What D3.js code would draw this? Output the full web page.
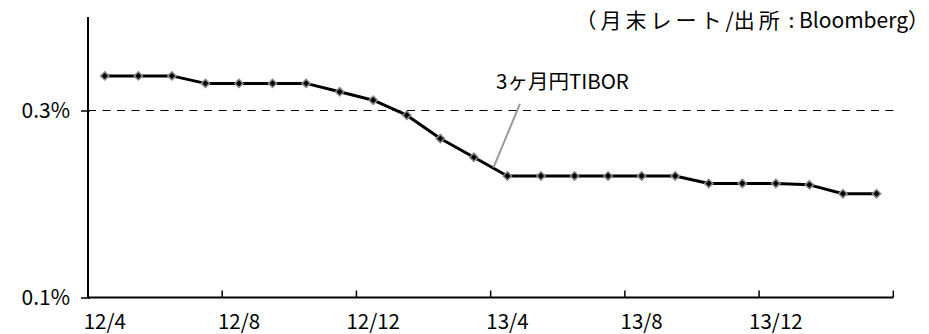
<!DOCTYPE html>
<html>
<head>
<meta charset="utf-8">
<script src="https://cdn.jsdelivr.net/npm/d3@7"></script>
<style>
  html, body { margin: 0; padding: 0; background: #fff; }
  svg { display: block; }
  text { font-family: "Noto Sans CJK JP", "Noto Sans", sans-serif; fill: #000; }
</style>
</head>
<body>
<svg id="chart" width="929" height="334"></svg>
<script>
// Month-end 3-month yen TIBOR, April 2012 – March 2014 (%)
const months = [
  "12/4", "12/5", "12/6", "12/7", "12/8", "12/9", "12/10", "12/11",
  "12/12", "13/1", "13/2", "13/3", "13/4", "13/5", "13/6", "13/7",
  "13/8", "13/9", "13/10", "13/11", "13/12", "14/1", "14/2", "14/3"
];
const tibor = [
  0.337, 0.337, 0.337, 0.329, 0.329, 0.329, 0.329, 0.320,
  0.311, 0.295, 0.270, 0.250, 0.230, 0.230, 0.230, 0.230,
  0.230, 0.230, 0.222, 0.222, 0.222, 0.2205, 0.211, 0.211
];
const xTickLabels = ["12/4", "12/8", "12/12", "13/4", "13/8", "13/12"];
const yTicks = [0.1, 0.3];
const yDomain = [0.1, 0.4];
const seriesName = "3ヶ月円TIBOR";
// source note, split so the Japanese runs can be spaced like the Latin run
const sourceNoteParts = [
  { t: "（月末レート", cjk: true },
  { t: "/", cjk: false },
  { t: "出所", cjk: true },
  { t: " : ", cjk: false },
  { t: "Bloomberg", cjk: false },
  { t: "）", cjk: false }
];

const svg = d3.select("#chart");
const plotLeft = 88, plotRight = 893.3, plotTop = 17, plotBottom = 297.5;
const labelFont = "'Noto Sans CJK JP', sans-serif";

const x = d3.scaleBand().domain(months).range([plotLeft, plotRight]).paddingInner(0).paddingOuter(0);
const y = d3.scaleLinear().domain(yDomain).range([plotBottom, plotTop]);
const cx = d => x(d) + x.bandwidth() / 2;

// reference line at 0.3%
svg.append("line")
  .attr("x1", plotLeft).attr("x2", plotRight)
  .attr("y1", y(0.3)).attr("y2", y(0.3))
  .attr("stroke", "#000").attr("stroke-width", 1)
  .attr("stroke-dasharray", "8,6.5");

// y axis
const yAxis = svg.append("g")
  .attr("transform", `translate(${plotLeft},0)`)
  .call(d3.axisLeft(y).tickValues(yTicks).tickSize(7).tickPadding(11)
    .tickFormat(d => d.toFixed(1) + "%"));
yAxis.select(".domain").attr("stroke", "#000").attr("stroke-width", 2)
  .attr("d", `M0,${plotTop}V${plotBottom}`);
yAxis.selectAll(".tick line").attr("x1", 2).attr("stroke-width", 1.5);
yAxis.selectAll(".tick text").attr("font-size", 21).style("font-family", labelFont);

// x axis: labels centred on every fourth month, ticks on band boundaries
const xAxis = svg.append("g")
  .attr("transform", `translate(0,${plotBottom})`)
  .call(d3.axisBottom(x).tickValues(xTickLabels).tickSize(0).tickPadding(0));
xAxis.select(".domain").attr("stroke", "#000").attr("stroke-width", 2)
  .attr("d", `M${plotLeft},0H${plotRight}`);
xAxis.selectAll(".tick text")
  .attr("y", 31).attr("dy", null)
  .attr("font-size", 20.5).style("font-family", labelFont);

const boundaries = months.filter((d, i) => i > 0 && i % 4 === 0).map(d => x(d)).concat([plotRight]);
svg.append("g").selectAll("line").data(boundaries).join("line")
  .attr("x1", d => d).attr("x2", d => d)
  .attr("y1", plotBottom).attr("y2", plotBottom - 7)
  .attr("stroke", "#000").attr("stroke-width", 1.5);

// series line
const line = d3.line().x((d, i) => cx(months[i])).y(d => y(d));
svg.append("path").datum(tibor)
  .attr("d", line)
  .attr("fill", "none").attr("stroke", "#000").attr("stroke-width", 3)
  .attr("stroke-linejoin", "round");

// diamond markers
const diamond = d3.symbol().type(d3.symbolDiamond2).size(44);
svg.append("g").selectAll("path").data(tibor).join("path")
  .attr("transform", (d, i) => `translate(${cx(months[i])},${y(d)})`)
  .attr("d", diamond)
  .attr("fill", "#000").attr("stroke", "#8a8a8a").attr("stroke-width", 1.5);

// series label with leader line
const iLead = 12;
svg.append("line")
  .attr("x1", cx(months[iLead]) - 14).attr("y1", y(0.239))
  .attr("x2", cx(months[iLead]) + 12.5).attr("y2", y(0.307))
  .attr("stroke", "#999").attr("stroke-width", 2);
svg.append("text")
  .attr("x", 496).attr("y", 89)
  .attr("font-size", 20.5)
  .text(seriesName);

const note = svg.append("text")
  .attr("x", 929).attr("y", 28)
  .attr("font-size", 21)
  .attr("text-anchor", "end");
note.selectAll("tspan").data(sourceNoteParts).join("tspan")
  .attr("letter-spacing", d => d.cjk ? 4 : 0)
  .text(d => d.t);
</script>
</body>
</html>
